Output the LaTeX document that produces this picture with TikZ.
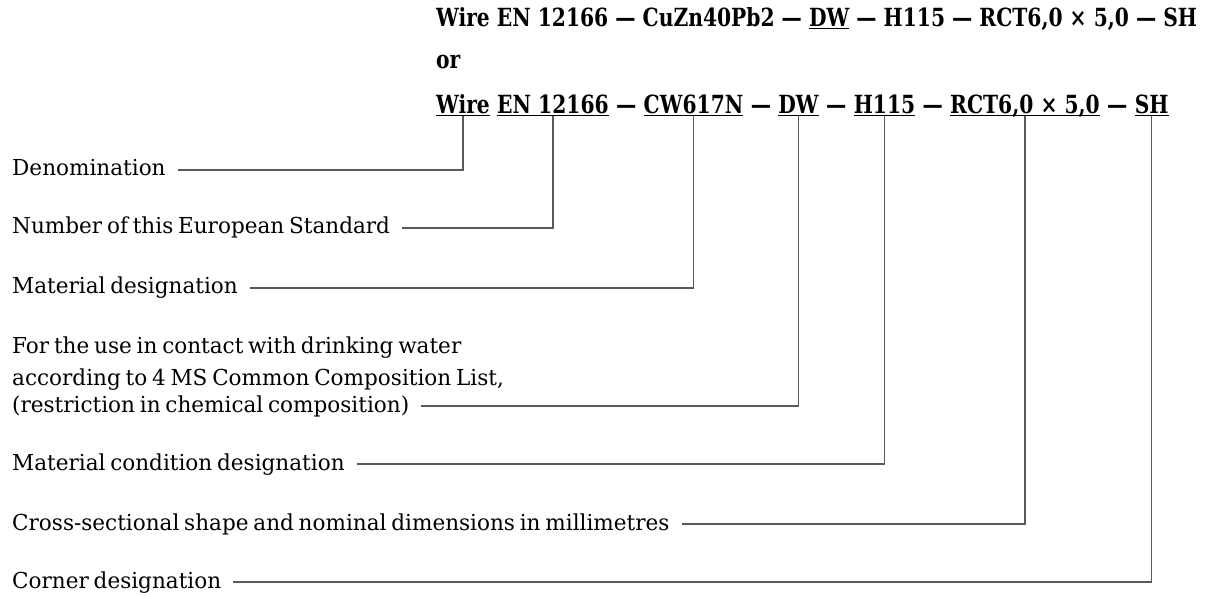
\documentclass[tikz,border=0pt]{standalone}
\usepackage{fontspec}
\setmainfont{DejaVu Serif}[FakeStretch=0.98, WordSpace=0.7]
\newfontfamily\codefont{DejaVu Serif}[FakeStretch=0.81]
\usetikzlibrary{positioning}
\definecolor{leadgray}{HTML}{5A5A5A}
\newcommand{\undl}[1]{\underline{\raisebox{0pt}[\height][0pt]{#1}}}
\tikzset{
  code/.style={font=\codefont\bfseries\fontsize{25}{30}\selectfont, inner sep=0pt},
  desc/.style={font=\fontsize{22}{26}\selectfont, inner sep=0pt, anchor=base west},
  lead/.style={draw=leadgray, line width=1.3pt},
  next/.style={code, base right=7pt of #1},
}

\begin{document}
\begin{tikzpicture}[x=1pt, y=-1pt]
  \useasboundingbox (0,0) rectangle (1211,596);

  % Designation, first form
  \node[code, anchor=base west] (alloy) at (436,27)
    {Wire EN 12166 — CuZn40Pb2 — \undl{DW} — H115 — RCT6,0 × 5,0 — SH};
  \node[code, anchor=base west] (ortext) at (436,69) {or};

  % Designation, second form: one node per part
  \node[code, anchor=base west] (wire) at (436,114) {\undl{Wire}};
  \node[next=wire] (en) {\undl{EN 12166}};
  \node[next=en] (d1) {—};
  \node[next=d1] (cw) {\undl{CW617N}};
  \node[next=cw] (d2) {—};
  \node[next=d2] (dw) {\undl{DW}};
  \node[next=dw] (d3) {—};
  \node[next=d3] (h) {\undl{H115}};
  \node[next=h] (d4) {—};
  \node[next=d4] (rct) {\undl{RCT6,0 × 5,0}};
  \node[next=rct] (d5) {—};
  \node[next=d5] (sh) {\undl{SH}};

  % Explanations
  \node[desc] (denom) at (12,176) {Denomination};
  \node[desc] (number) at (12,234) {Number of this European Standard};
  \node[desc] (matdes) at (12,294) {Material designation};
  \node[desc] (dwa) at (12,353) {For the use in contact with drinking water};
  \node[desc] (dwb) at (12,385) {according to 4 MS Common Composition List,};
  \node[desc] (dwc) at (12,412) {(restriction in chemical composition)};
  \node[desc] (cond) at (12,470) {Material condition designation};
  \node[desc] (shape) at (12,530) {Cross-sectional shape and nominal dimensions in millimetres};
  \node[desc] (corner) at (12,588) {Corner designation};

  % Leaders
  \foreach \lab/\part in {denom/wire, number/en, matdes/cw, dwc/dw,
                          cond/h, shape/rct, corner/sh}
    \draw[lead] (\part.south) |- ([xshift=12pt, yshift=6pt]\lab.base east);

\end{tikzpicture}
\end{document}
